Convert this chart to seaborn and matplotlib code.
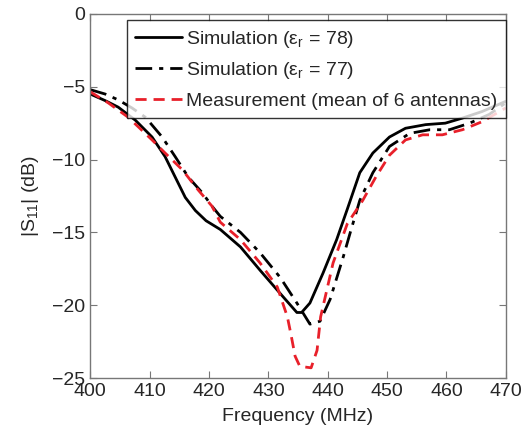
import numpy as np
import pandas as pd
import seaborn as sns
import matplotlib
matplotlib.use('Agg')
import matplotlib.pyplot as plt

# simulated |S11|, eps_r = 78
f_sim78 = [400, 402.5, 404.7, 407.6, 410.4, 412.6, 414.3, 416, 417.7, 419.5, 421.9, 425.3,
           428.6, 432, 434.8, 435.6, 437, 439.2, 441.5, 443.3, 445.4, 447.6, 450.4, 453.1,
           456.5, 459.8, 462.7, 466, 470]
s_sim78 = [-5.5, -5.95, -6.4, -7.3, -8.45, -9.8, -11.2, -12.6, -13.5, -14.2, -14.8, -16.0,
           -17.6, -19.2, -20.5, -20.5, -19.85, -17.8, -15.5, -13.4, -10.9, -9.55, -8.45, -7.85,
           -7.6, -7.5, -7.15, -6.7, -6.0]

# simulated |S11|, eps_r = 77
f_sim77 = [400, 402.5, 404.7, 407, 409.3, 412.1, 414.3, 416.5, 418.9, 420.5, 421.9, 425.3,
           428.6, 432, 434.8, 437, 438.7, 440.4, 442.6, 443.8, 445.4, 447.6, 450.4, 453.8,
           457.2, 460.5, 463.9, 467.2, 470]
s_sim77 = [-5.2, -5.5, -5.9, -6.45, -7.1, -8.45, -9.8, -11.2, -12.3, -13.2, -13.9, -15.0,
           -16.4, -18.1, -19.85, -21.3, -21.1, -19.6, -16.7, -15.0, -12.8, -10.9, -9.1, -8.2,
           -7.95, -7.95, -7.5, -6.9, -6.1]

# measurement, mean of 6 antennas
f_meas = [400, 403, 406.4, 410.4, 412.6, 415.5, 418.2, 420.5, 421.9, 425.3, 428.6, 431.5,
          433.2, 433.8, 434.5, 435.3, 437.2, 438.2, 438.8, 440.9, 443.3, 445.9, 448.1, 450.4,
          453.1, 456, 459.3, 462.7, 466, 470]
s_meas = [-5.35, -6.1, -7.1, -8.65, -9.55, -10.7, -12.1, -13.2, -14.3, -15.5, -17.1, -18.75,
          -20.8, -22.0, -23.5, -24.2, -24.3, -23.1, -20.8, -17.1, -14.4, -12.8, -11.2, -9.7,
          -8.65, -8.3, -8.3, -7.95, -7.4, -6.45]

labels = ['Simulation (ε$_\\mathregular{r}$ = 78)',
          'Simulation (ε$_\\mathregular{r}$ = 77)',
          'Measurement (mean of 6 antennas)']

sns.set_style('ticks')
plt.rcParams['font.family'] = ['Liberation Sans', 'DejaVu Sans']
plt.rcParams['font.size'] = 14

fig = plt.figure(figsize=(5.22, 4.36), dpi=100)
ax = fig.add_axes([0.173, 0.133, 0.796, 0.835])

df78 = pd.DataFrame({'f': f_sim78, 's': s_sim78})
df77 = pd.DataFrame({'f': f_sim77, 's': s_sim77})
dfm = pd.DataFrame({'f': f_meas, 's': s_meas})

sns.lineplot(data=df78, x='f', y='s', ax=ax, color='black', lw=2.0, sort=False, label=labels[0])
sns.lineplot(data=df77, x='f', y='s', ax=ax, color='black', lw=2.0, sort=False, label=labels[1])
ax.lines[-1].set_dashes([6, 2.5, 1.5, 2.5])
sns.lineplot(data=dfm, x='f', y='s', ax=ax, color='#e8202a', lw=2.0, sort=False, label=labels[2])
ax.lines[-1].set_dashes([4, 2.5])
for ln in ax.lines:
    ln.set_solid_joinstyle('round')
    ln.set_dash_joinstyle('round')

ax.set_xlim(400, 470)
ax.set_ylim(-25, 0)
ax.set_xticks(np.arange(400, 471, 10))
ax.set_yticks(np.arange(-25, 1, 5))
ax.set_xlabel('Frequency (MHz)', fontsize=14, labelpad=6)
ax.set_ylabel('|S$_\\mathregular{11}$| (dB)', fontsize=14, labelpad=8)
ax.tick_params(direction='in', top=True, right=True, length=5, color='#777777', labelsize=14)
for sp in ax.spines.values():
    sp.set_visible(True)
    sp.set_color('#777777')
    sp.set_linewidth(1.0)

leg = ax.legend(loc='upper right', bbox_to_anchor=(1.0, 0.984), fontsize=14, frameon=True,
                fancybox=False, edgecolor='black', handlelength=2.4, handletextpad=0.2,
                borderpad=0.45, labelspacing=0.55, borderaxespad=0.0)
leg.get_frame().set_linewidth(1.0)

plt.savefig('out.png', dpi=100)
